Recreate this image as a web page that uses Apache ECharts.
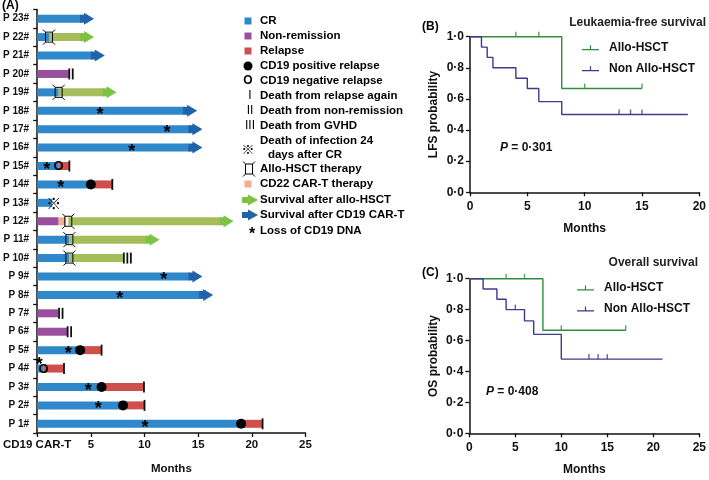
<!DOCTYPE html>
<html><head><meta charset="utf-8">
<script src="https://cdn.jsdelivr.net/npm/echarts@6/dist/echarts.min.js"></script>
<style>html,body{margin:0;padding:0;background:#fff}#c{width:709px;height:480px}</style>
</head><body><div id="c"></div>
<script>
// ---------- Panel A data (months) ----------
const patients = ['P 1#','P 2#','P 3#','P 4#','P 5#','P 6#','P 7#','P 8#','P 9#','P 10#','P 11#','P 12#',
  'P 13#','P 14#','P 15#','P 16#','P 17#','P 18#','P 19#','P 20#','P 21#','P 22#','P 23#'];
const xTicksA = [0, 5, 10, 15, 20, 25];
const crBars = [['P 1#',0,19],['P 2#',0,8],['P 3#',0,6],['P 4#',0,0.6],['P 5#',0,4],['P 8#',0,16.4],
  ['P 9#',0,15.4],['P 10#',0,3.0],['P 11#',0,3.0],['P 13#',0,1.4],['P 14#',0,5],['P 15#',0,2.0],
  ['P 16#',0,15.4],['P 17#',0,15.4],['P 18#',0,14.9],['P 19#',0,2.0],['P 21#',0,6.3],['P 22#',0,1.1],['P 23#',0,5.3]];
const nrBars = [['P 6#',0,2.85],['P 7#',0,1.95],['P 12#',0,2.0],['P 20#',0,2.95]];
const relapseBars = [['P 1#',19,21],['P 2#',8,10],['P 3#',6,9.95],['P 4#',0.6,2.5],['P 5#',4,6],['P 14#',5,7],['P 15#',2.0,3.0]];
const cd22Bars = [['P 12#',2.0,2.7]];
const alloBars = [['P 10#',3.0,8.0],['P 11#',3.0,11.4],['P 12#',2.9,18.3],['P 19#',2.0,7.4],['P 22#',1.1,5.3]];
const cd19Arrows = [['P 8#',16.4],['P 9#',15.4],['P 16#',15.4],['P 17#',15.4],['P 18#',14.9],['P 21#',6.3],['P 23#',5.3]];
const alloArrows = [['P 11#',11.4],['P 12#',18.3],['P 19#',7.4],['P 22#',5.3]];
const posRelapse = [['P 1#',19],['P 2#',8],['P 3#',6],['P 5#',4],['P 14#',5]];
const negRelapse = [['P 4#',0.6],['P 15#',2.0]];
const deathRelapse = [['P 1#',21],['P 2#',10],['P 3#',9.95],['P 4#',2.5],['P 5#',6],['P 14#',7],['P 15#',3.0]];
const deathNR = [['P 6#',3.0],['P 7#',2.2],['P 20#',3.15]];
const deathGVHD = [['P 10#',8.4]];
const deathInfection = [['P 13#',1.55]];
const alloHSCT = [['P 10#',3.0],['P 11#',3.0],['P 12#',2.9],['P 19#',2.0],['P 22#',1.1]];
const cd19Loss = [['P 1#',10.05],['P 2#',5.7],['P 3#',4.75],['P 4#',0.2],['P 5#',2.9],['P 8#',7.7],['P 9#',11.8],
  ['P 14#',2.2],['P 15#',0.9],['P 16#',8.8],['P 17#',12.1],['P 18#',5.85]];
const liftedStars = ['P 4#'];

// ---------- Panel B / C data ----------
const lfsAllo = [[0,1],[8,0.667],[15,0.667]];
const lfsAlloCensor = [[4,1],[6,1],[10,0.667],[15,0.667]];
const lfsNon = [[0,1],[1,0.933],[1.5,0.867],[2,0.8],[4,0.733],[5,0.667],[6,0.583],[8,0.5],[19,0.5]];
const lfsNonCensor = [[13,0.5],[14,0.5],[15,0.5]];
const osAllo = [[0,1],[8,0.667],[17,0.667]];
const osAlloCensor = [[4,1],[6,1],[10,0.667],[17,0.667]];
const osNon = [[0,1],[1.5,0.933],[3,0.867],[4,0.8],[6,0.727],[7,0.64],[10,0.48],[21,0.48]];
const osNonCensor = [[5,0.8],[13,0.48],[14,0.48],[15,0.48]];

// ---------- styles ----------
const FF = '"Liberation Sans", Arial, sans-serif';
const C_CR = '#2f88c9', C_CRA = '#1f63a8', C_NR = '#9a4f9e', C_REL = '#cf4f4d', C_CD22 = '#f2ae90',
      C_ALLO = '#a7bd5b', C_ALLOA = '#7cc243', C_G = '#2f8d3c', C_P = '#3f3a8f';
const BAR = 8;

function arrowParts(tip, y, color, bar) {
  return [
    {type:'rect', shape:{x:tip-14, y:y-bar/2, width:5, height:bar}, style:{fill:color}},
    {type:'polygon', shape:{points:[[tip-10,y-6],[tip,y],[tip-10,y+6]]}, style:{fill:color}}
  ];
}
function alloParts(x, y) {
  const s = {stroke:'#000', lineWidth:1};
  return [
    {type:'rect', shape:{x:x-3.5, y:y-5, width:7, height:10}, style:{fill:'none', stroke:'#000', lineWidth:1}},
    {type:'line', shape:{x1:x-3.5,y1:y-5,x2:x-6,y2:y-7.5}, style:s},
    {type:'line', shape:{x1:x+3.5,y1:y-5,x2:x+6,y2:y-7.5}, style:s},
    {type:'line', shape:{x1:x-3.5,y1:y+5,x2:x-6,y2:y+7.5}, style:s},
    {type:'line', shape:{x1:x+3.5,y1:y+5,x2:x+6,y2:y+7.5}, style:s}
  ];
}
function lines(x, y, n, color) {
  const out = [];
  for (let i = 0; i < n; i++) {
    const cx = x + (i - (n - 1) / 2) * 3.5;
    out.push({type:'rect', shape:{x:cx-0.9, y:y-5.5, width:1.8, height:11}, style:{fill:color||'#111'}});
  }
  return out;
}
function txt(x, y, t, font, extra) {
  return Object.assign({type:'text', x:x, y:y, style:{text:t, font:font, fill:'#000', align:'center', verticalAlign:'middle',
    textAlign:'center', textVerticalAlign:'middle'}}, extra||{});
}

function bars(list, color, arrows) {
  return {type:'custom', xAxisIndex:0, yAxisIndex:0, z:2, silent:true,
    data: list.map(d => [d[1], d[2], patients.indexOf(d[0]),
      arrows && arrows.some(a => a[0] === d[0] && a[1] === d[2]) ? 1 : 0]),
    encode:{x:[0,1], y:2},
    renderItem:(params, api) => {
      const yi = api.value(2);
      const p0 = api.coord([api.value(0), yi]);
      const p1 = api.coord([api.value(1), yi]);
      let x1 = p1[0];
      if (api.value(3)) x1 -= 13;
      return {type:'rect', shape:{x:p0[0], y:p0[1]-BAR/2, width:x1-p0[0], height:BAR}, style:{fill:color}};
    }};
}
function marks(list, draw, z) {
  return {type:'custom', xAxisIndex:0, yAxisIndex:0, z:z||3, silent:true,
    data: list.map(d => [d[1], patients.indexOf(d[0]), liftedStars.indexOf(d[0]) >= 0 ? 1 : 0]),
    encode:{x:0, y:1},
    renderItem:(params, api) => {
      const p = api.coord([api.value(0), api.value(1)]);
      return {type:'group', children: draw(p[0], p[1], api.value(2))};
    }};
}

const series = [
  bars(crBars, C_CR, cd19Arrows),
  bars(nrBars, C_NR),
  bars(cd22Bars, C_CD22),
  bars(relapseBars, C_REL),
  bars(alloBars, C_ALLO, alloArrows),
  marks(cd19Arrows, (x,y) => arrowParts(x, y, C_CRA, BAR)),
  marks(alloArrows, (x,y) => arrowParts(x, y, C_ALLOA, BAR)),
  marks(posRelapse, (x,y) => [{type:'circle', shape:{cx:x, cy:y, r:5}, style:{fill:'#000'}}]),
  marks(negRelapse, (x,y) => [txt(x, y+0.5, 'O', 'bold 13px ' + FF)]),
  marks(deathRelapse, (x,y) => lines(x, y, 1)),
  marks(deathNR, (x,y) => lines(x, y, 2)),
  marks(deathGVHD, (x,y) => lines(x, y, 3)),
  marks(deathInfection, (x,y) => [txt(x, y, '※', '15px "Noto Sans CJK SC", "DejaVu Sans"')]),
  marks(alloHSCT, (x,y) => alloParts(x, y), 4),
  marks(cd19Loss, (x,y,lift) => [txt(x, y + 4 - (lift ? 8 : 0), '*', 'bold 18px ' + FF)], 5)
];

// KM series
function km(name, data, color, xi) {
  return {type:'line', name:name, xAxisIndex:xi, yAxisIndex:xi, data:data, step:'end', symbol:'none',
    lineStyle:{color:color, width:1.4}, itemStyle:{color:color}, silent:true, animation:false};
}
function cens(name, data, color, xi) {
  return {type:'scatter', name:name, xAxisIndex:xi, yAxisIndex:xi, data:data, symbol:'rect',
    symbolSize:[1.4,5], symbolOffset:[0,-2.5], itemStyle:{color:color}, silent:true};
}
series.push(km('Allo-HSCT', lfsAllo, C_G, 1), km('Non Allo-HSCT', lfsNon, C_P, 1),
  cens('Allo-HSCT', lfsAlloCensor, C_G, 1), cens('Non Allo-HSCT', lfsNonCensor, C_P, 1),
  km('Allo-HSCT', osAllo, C_G, 2), km('Non Allo-HSCT', osNon, C_P, 2),
  cens('Allo-HSCT', osAlloCensor, C_G, 2), cens('Non Allo-HSCT', osNonCensor, C_P, 2));

// ---------- Panel A legend (graphic) ----------
const legendItems = [
  ['sq', C_CR, 'CR'], ['sq', C_NR, 'Non-remission'], ['sq', C_REL, 'Relapse'],
  ['dot', null, 'CD19 positive relapse'], ['O', null, 'CD19 negative relapse'],
  ['I', null, 'Death from relapse again'], ['II', null, 'Death from non-remission'],
  ['III', null, 'Death from GVHD'], ['inf', null, 'Death of infection 24', 'days after CR'],
  ['allo', null, 'Allo-HSCT therapy'], ['sq', C_CD22, 'CD22 CAR-T therapy'],
  ['ga', C_ALLOA, 'Survival after allo-HSCT'], ['ba', C_CRA, 'Survival after CD19 CAR-T'],
  ['star', null, 'Loss of CD19 DNA']
];
const legendY = [21, 36, 51, 66, 81, 96, 111, 126, 148, 169, 184, 200, 215, 231];
const LF = 'bold 11.5px ' + FF;
const graphics = [];
legendItems.forEach((it, i) => {
  const y = legendY[i], sx = 248;
  const k = it[0];
  if (k === 'sq') graphics.push({type:'rect', shape:{x:sx-3.5, y:y-3.5, width:7, height:7}, style:{fill:it[1]}});
  else if (k === 'dot') graphics.push({type:'circle', shape:{cx:sx, cy:y, r:4.5}, style:{fill:'#000'}});
  else if (k === 'O') graphics.push(txt(sx, y, 'O', 'bold 12px ' + FF));
  else if (k === 'I' || k === 'II' || k === 'III') graphics.push(txt(sx+2, y, k, '12px ' + FF));
  else if (k === 'inf') graphics.push(txt(sx, y+1, '※', '13px "Noto Sans CJK SC", "DejaVu Sans"'));
  else if (k === 'allo') graphics.push({type:'group', children: alloParts(sx+1, y)});
  else if (k === 'ga' || k === 'ba') {
    graphics.push({type:'rect', shape:{x:242, y:y-3, width:8, height:6}, style:{fill:it[1]}});
    graphics.push({type:'polygon', shape:{points:[[248,y-5.5],[258,y],[248,y+5.5]]}, style:{fill:it[1]}});
  } else if (k === 'star') graphics.push(txt(sx+4, y+4, '*', 'bold 16px ' + FF));
  if (k === 'inf') {
    graphics.push({type:'text', x:260, y:y-7, style:{text:it[2], font:LF, fill:'#000', align:'left',
      verticalAlign:'middle', textAlign:'left', textVerticalAlign:'middle'}});
    graphics.push({type:'text', x:305, y:y+7, style:{text:it[3], font:LF, fill:'#000', align:'center',
      verticalAlign:'middle', textAlign:'center', textVerticalAlign:'middle'}});
  } else graphics.push({type:'text', x:260, y:y, style:{text:it[2], font:LF, fill:'#000', align:'left',
    verticalAlign:'middle', textAlign:'left', textVerticalAlign:'middle'}});
});
// panel labels and titles
graphics.push({type:'text', x:2, y:6, style:{text:'(A)', font:'bold 12px ' + FF, fill:'#000', verticalAlign:'middle', textVerticalAlign:'middle'}});
graphics.push({type:'text', x:422, y:27, style:{text:'(B)', font:'bold 12px ' + FF, fill:'#000', verticalAlign:'middle', textVerticalAlign:'middle'}});
graphics.push({type:'text', x:422, y:273, style:{text:'(C)', font:'bold 12px ' + FF, fill:'#000', verticalAlign:'middle', textVerticalAlign:'middle'}});
graphics.push({type:'text', x:706, y:23, style:{text:'Leukaemia-free survival', font:'bold 12px ' + FF, fill:'#222', align:'right', textAlign:'right', verticalAlign:'middle', textVerticalAlign:'middle'}});
graphics.push({type:'text', x:698, y:263, style:{text:'Overall survival', font:'bold 12px ' + FF, fill:'#222', align:'right', textAlign:'right', verticalAlign:'middle', textVerticalAlign:'middle'}});
const pRich = {i:{fontStyle:'italic', fontWeight:'bold', fontSize:12, fontFamily:FF}, n:{fontWeight:'bold', fontSize:12, fontFamily:FF}};
graphics.push({type:'text', x:500, y:148, style:{text:'{i|P}{n| = 0·301}', rich:pRich, font:'bold 12px ' + FF, fill:'#111', verticalAlign:'middle', textVerticalAlign:'middle'}});
graphics.push({type:'text', x:486, y:392, style:{text:'{i|P}{n| = 0·408}', rich:pRich, font:'bold 12px ' + FF, fill:'#111', verticalAlign:'middle', textVerticalAlign:'middle'}});

const axisLineS = {show:true, lineStyle:{color:'#111', width:1.5}};
const tickS = {show:true, length:4, lineStyle:{color:'#111', width:1.3}};
const probFmt = v => v.toFixed(1).replace('.', '·');
const lblB = {color:'#111', fontWeight:'bold', fontSize:12, fontFamily:FF};

const legendIcon = 'path://M0,4.5h20v1.5H0z M9.3,0h1.4v6h-1.4z';
const legendBase = {orient:'vertical', itemWidth:17, itemHeight:6, itemGap:9, padding:0, icon:legendIcon,
  data:['Allo-HSCT','Non Allo-HSCT'], selectedMode:false,
  textStyle:{color:'#111', fontWeight:'bold', fontSize:12, fontFamily:FF, padding:[0,0,0,5]}};

const option = {
  animation:false,
  backgroundColor:'#fff',
  textStyle:{fontFamily:FF},
  grid:[
    {left:36, top:9.5, width:269.5, height:436},
    {left:470, top:36.7, width:231, height:155.6},
    {left:469.3, top:278.7, width:231.7, height:154.6}
  ],
  xAxis:[
    {gridIndex:0, type:'value', min:xTicksA[0], max:xTicksA[xTicksA.length-1], interval:5,
      axisLine:axisLineS, axisTick:tickS, splitLine:{show:false},
      axisLabel:{formatter:v => v === 0 ? 'CD19 CAR-T' : String(v), color:'#111', fontWeight:'bold', fontSize:11.5, fontFamily:FF, margin:6},
      name:'Months', nameLocation:'middle', nameGap:30, nameTextStyle:{color:'#111', fontWeight:'bold', fontSize:11.5, fontFamily:FF}},
    {gridIndex:1, type:'value', min:0, max:20, interval:5, axisLine:axisLineS, axisTick:tickS, splitLine:{show:false},
      axisLabel:Object.assign({margin:8}, lblB), name:'Months', nameLocation:'middle', nameGap:30, nameTextStyle:lblB},
    {gridIndex:2, type:'value', min:0, max:25, interval:5, axisLine:axisLineS, axisTick:tickS, splitLine:{show:false},
      axisLabel:Object.assign({margin:8}, lblB), name:'Months', nameLocation:'middle', nameGap:30, nameTextStyle:lblB}
  ],
  yAxis:[
    {gridIndex:0, type:'category', data:patients, axisLine:axisLineS, axisTick:tickS,
      axisLabel:{color:'#111', fontWeight:'bold', fontSize:10, fontFamily:FF, margin:8}},
    {gridIndex:1, type:'value', min:0, max:1, interval:0.2, axisLine:axisLineS, axisTick:tickS, splitLine:{show:false},
      axisLabel:Object.assign({formatter:probFmt, margin:6}, lblB),
      name:'LFS probability', nameLocation:'middle', nameGap:30, nameRotate:90, nameTextStyle:lblB},
    {gridIndex:2, type:'value', min:0, max:1, interval:0.2, axisLine:axisLineS, axisTick:tickS, splitLine:{show:false},
      axisLabel:Object.assign({formatter:probFmt, margin:6}, lblB),
      name:'OS probability', nameLocation:'middle', nameGap:30, nameRotate:90, nameTextStyle:lblB}
  ],
  legend:[
    Object.assign({left:582, top:41.7}, legendBase),
    Object.assign({left:577, top:282}, legendBase)
  ],
  graphic:graphics,
  series:series
};
const chart = echarts.init(document.getElementById('c'), null, {renderer:'canvas'});
chart.setOption(option);
</script></body></html>
